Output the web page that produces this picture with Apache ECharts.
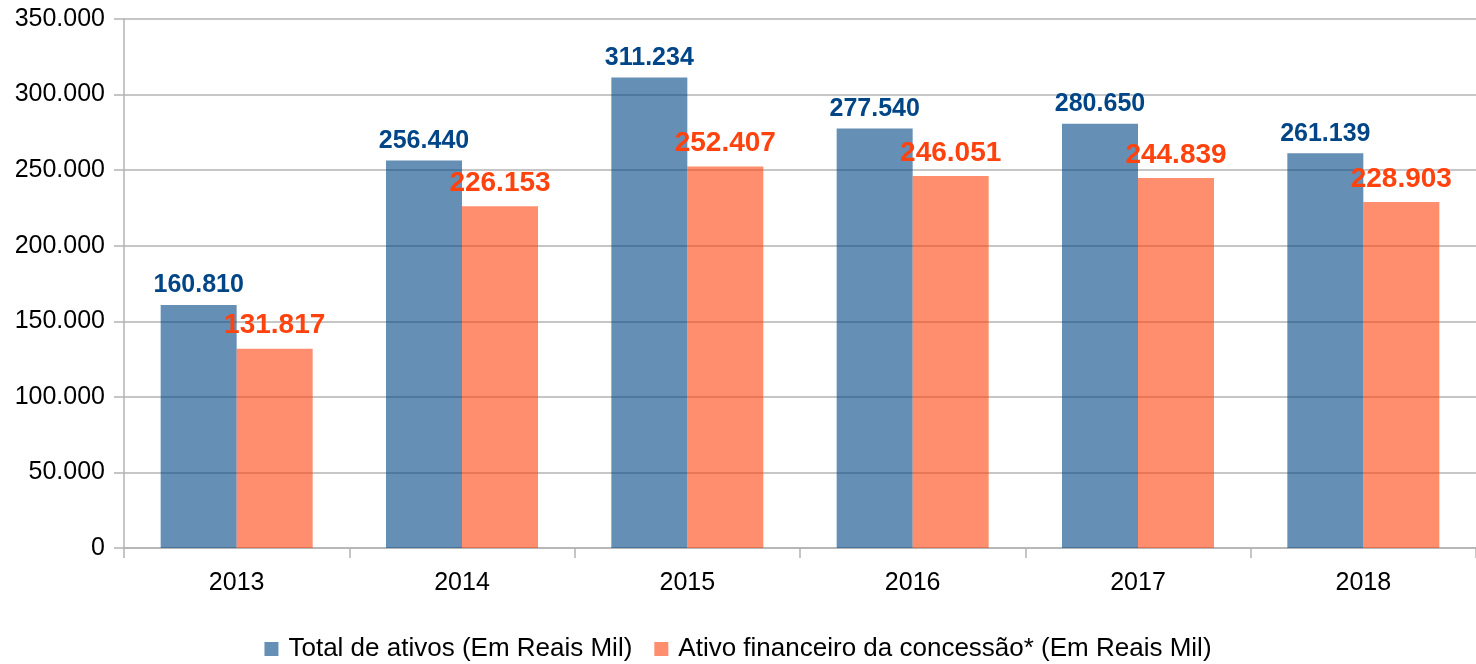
<!DOCTYPE html>
<html>
<head>
<meta charset="utf-8">
<script src="https://cdn.jsdelivr.net/npm/echarts@6/dist/echarts.min.js"></script>
<style>
html, body { margin: 0; padding: 0; background: #fff; }
#chart { width: 1476px; height: 664px; }
</style>
</head>
<body>
<div id="chart"></div>
<script>
// anos e valores (Em Reais Mil)
const categories = ['2013', '2014', '2015', '2016', '2017', '2018']
const totalAtivos = [160810, 256440, 311234, 277540, 280650, 261139]
const ativoFinanceiro = [131817, 226153, 252407, 246051, 244839, 228903]
const seriesNames = ['Total de ativos (Em Reais Mil)', 'Ativo financeiro da concessão* (Em Reais Mil)']

const fmt = v => {
  if (v === 0) return '0'
  return String(v).replace(/\B(?=(\d{3})+(?!\d))/g, '.')
}

const font = 'Liberation Sans'
const chart = echarts.init(document.getElementById('chart'))

const option = {
  animation: false,
  color: ['rgba(0,69,134,0.6)', 'rgba(255,66,14,0.6)'],
  textStyle: { fontFamily: font },
  grid: {
    left: 124,
    right: -4,
    top: 19,
    bottom: 116,
    containLabel: false
  },
  legend: {
    top: 631,
    left: 'center',
    icon: 'rect',
    itemWidth: 14,
    itemHeight: 14,
    itemGap: 22,
    textStyle: { fontSize: 26, color: '#000', fontFamily: font, padding: [0, 0, 0, 5] },
    data: seriesNames
  },
  xAxis: {
    type: 'category',
    data: categories,
    axisLine: { lineStyle: { color: '#b3b3b3', width: 1.5 } },
    axisTick: { show: true, length: 10, alignWithLabel: false, lineStyle: { color: '#b3b3b3', width: 1.5 } },
    axisLabel: { color: '#000', fontSize: 25, margin: 23, fontFamily: font }
  },
  yAxis: {
    type: 'value',
    min: 0,
    max: 350000,
    interval: 50000,
    axisLine: { show: true, lineStyle: { color: '#b3b3b3', width: 1.5 } },
    axisTick: { show: true, length: 10, lineStyle: { color: '#b3b3b3', width: 1.5 } },
    splitLine: { lineStyle: { color: '#b3b3b3', width: 1.5 } },
    axisLabel: {
      color: '#000',
      fontSize: 25,
      margin: 19,
      fontFamily: font,
      formatter: fmt
    }
  },
  series: [
    {
      name: seriesNames[0],
      type: 'bar',
      barWidth: 76,
      barGap: '0%',
      data: totalAtivos,
      label: {
        show: true,
        position: 'top',
        distance: 7,
        color: '#004586',
        fontWeight: 'bold',
        fontSize: 25,
        fontFamily: font,
        formatter: p => fmt(p.value)
      }
    },
    {
      name: seriesNames[1],
      type: 'bar',
      barWidth: 76,
      barGap: '0%',
      data: ativoFinanceiro,
      label: {
        show: true,
        position: 'top',
        distance: 9,
        color: '#ff420e',
        fontWeight: 'bold',
        fontSize: 28,
        fontFamily: font,
        formatter: p => fmt(p.value)
      }
    }
  ]
}

chart.setOption(option)
</script>
</body>
</html>
